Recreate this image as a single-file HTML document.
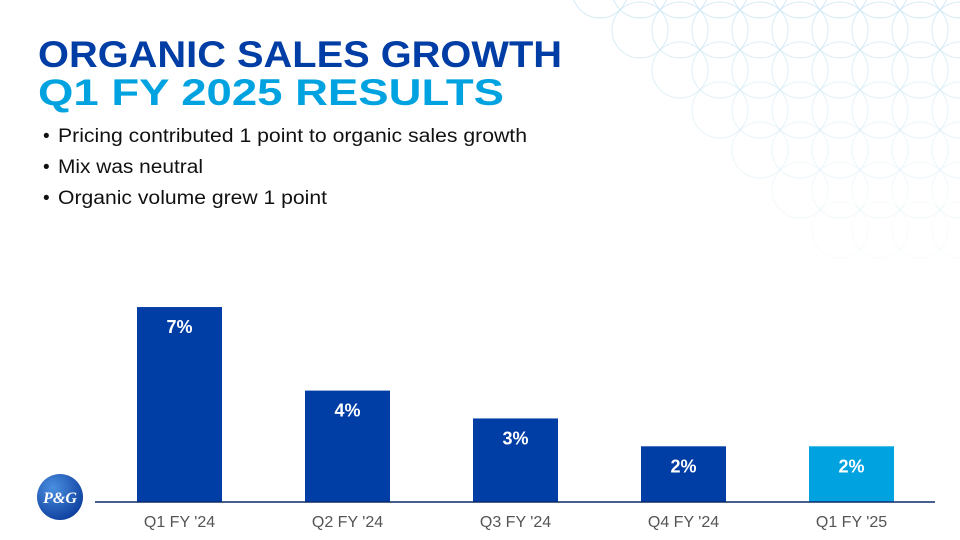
<!DOCTYPE html>
<html><head><meta charset="utf-8"><style>
body{margin:0;background:#fff;}
svg{display:block;font-family:"Liberation Sans",Arial,sans-serif;}
</style></head><body>
<svg id="chart" width="960" height="540" viewBox="0 0 960 540">
<defs>
<radialGradient id="lg" cx="0.35" cy="0.3" r="0.8"><stop offset="0" stop-color="#4a8fe0"/><stop offset="1" stop-color="#0a3a9a"/></radialGradient>
</defs>
<g id="pattern" stroke="#a9d6ea" stroke-width="1" fill="none" opacity="0.5"></g>
<text x="38" y="67" font-size="37" font-weight="bold" fill="#003DA5" textLength="524" lengthAdjust="spacingAndGlyphs">ORGANIC SALES GROWTH</text>
<text x="38" y="105" font-size="37" font-weight="bold" fill="#00A3E0" textLength="466" lengthAdjust="spacingAndGlyphs">Q1 FY 2025 RESULTS</text>
<g font-size="19" fill="#111">
<text x="43" y="142">•</text>
<text x="58" y="142" textLength="469" lengthAdjust="spacingAndGlyphs">Pricing contributed 1 point to organic sales growth</text>
<text x="43" y="173">•</text>
<text x="58" y="173" textLength="145" lengthAdjust="spacingAndGlyphs">Mix was neutral</text>
<text x="43" y="204">•</text>
<text x="58" y="204" textLength="269" lengthAdjust="spacingAndGlyphs">Organic volume grew 1 point</text>
</g>
<g id="bars"></g>
<line x1="95" y1="502" x2="935" y2="502" stroke="#0a2a6a" stroke-width="1.5"/>
<g>
<circle cx="60" cy="497" r="23" fill="url(#lg)"/>
<text x="60" y="503" font-size="16" font-weight="bold" font-style="italic" fill="#fff" text-anchor="middle" font-family="Liberation Serif,serif">P&amp;G</text>
</g>
</svg>
<script>
const categories=["Q1 FY '24","Q2 FY '24","Q3 FY '24","Q4 FY '24","Q1 FY '25"];
const values=[7,4,3,2,2];
const valueLabels=["7%","4%","3%","2%","2%"];
const NS="http://www.w3.org/2000/svg";
const baseY=502, pxPer=27.85;
function yScale(v){return baseY-v*pxPer;}
function xCenter(i){return 179.5+i*168;}
const g=document.getElementById('bars');
categories.forEach((c,i)=>{
  const r=document.createElementNS(NS,'rect');
  r.setAttribute('x',xCenter(i)-42.5);r.setAttribute('width',85);
  r.setAttribute('y',yScale(values[i]));r.setAttribute('height',baseY-yScale(values[i]));
  r.setAttribute('fill',i===categories.length-1?'#00A3E0':'#003DA5');
  
  
  g.appendChild(r);
  const t=document.createElementNS(NS,'text');
  t.setAttribute('x',xCenter(i));t.setAttribute('y',yScale(values[i])+26);
  t.setAttribute('text-anchor','middle');t.setAttribute('font-size','18');t.setAttribute('font-weight','bold');t.setAttribute('fill','#fff');
  t.textContent=valueLabels[i];
  
  
  g.appendChild(t);
  const l=document.createElementNS(NS,'text');
  l.setAttribute('x',xCenter(i));l.setAttribute('y',527);
  l.setAttribute('text-anchor','middle');l.setAttribute('font-size','16');l.setAttribute('fill','#555');
  l.textContent=c;
  
  
  g.appendChild(l);
});
const p=document.getElementById('pattern');
for(let cx=600;cx<=980;cx+=40){for(let cy=-10;cy<=260;cy+=40){
  if(cx<600+(cy*0.9)) continue;
  const c=document.createElementNS(NS,'circle');
  c.setAttribute('cx',cx);c.setAttribute('cy',cy);c.setAttribute('r',28);
  c.setAttribute('stroke-opacity',Math.max(0.15,1-cy/280));
  p.appendChild(c);
}}
</script>
</body></html>
